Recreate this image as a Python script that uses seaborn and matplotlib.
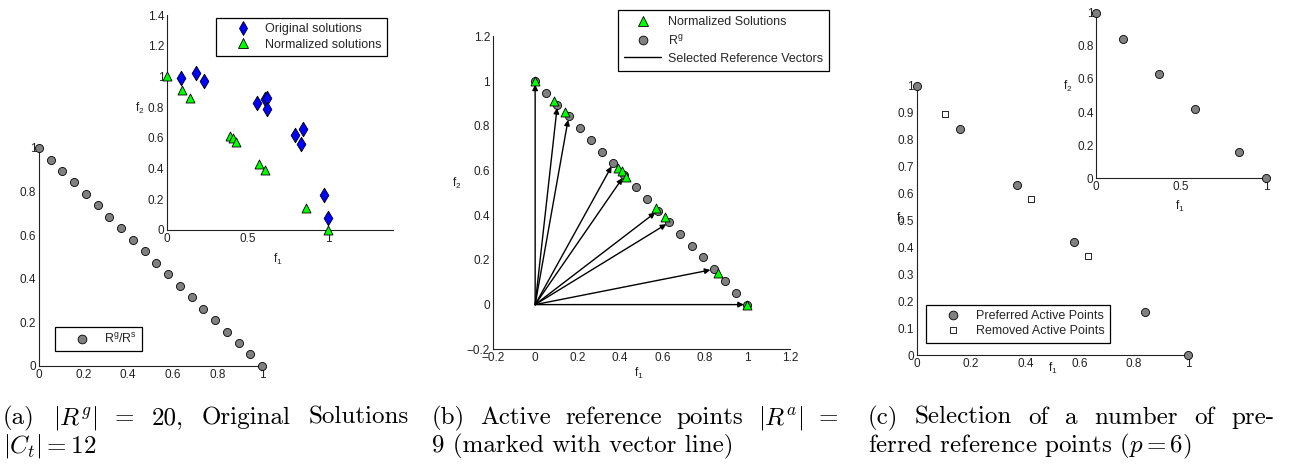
import matplotlib
matplotlib.use('Agg')
import matplotlib.pyplot as plt
import seaborn as sns
from matplotlib.lines import Line2D
from matplotlib.ticker import FuncFormatter

# R^g : 20 uniformly spread reference points on f1 + f2 = 1
rg_f1 = [0.0, 0.053, 0.105, 0.158, 0.211, 0.263, 0.316, 0.368, 0.421, 0.474,
         0.526, 0.579, 0.632, 0.684, 0.737, 0.789, 0.842, 0.895, 0.947, 1.0]
rg_f2 = [1.0, 0.947, 0.895, 0.842, 0.789, 0.737, 0.684, 0.632, 0.579, 0.526,
         0.474, 0.421, 0.368, 0.316, 0.263, 0.211, 0.158, 0.105, 0.053, 0.0]

# original / normalized solutions (panel a inset, panel b)
orig_f1 = [0.085, 0.18, 0.23, 0.56, 0.61, 0.62, 0.62, 0.79, 0.845, 0.83, 0.975, 1.0]
orig_f2 = [0.99, 1.02, 0.97, 0.83, 0.85, 0.86, 0.79, 0.62, 0.66, 0.56, 0.23, 0.08]
norm_f1 = [0.0, 0.09, 0.14, 0.39, 0.41, 0.43, 0.57, 0.61, 0.86, 1.0]
norm_f2 = [1.0, 0.91, 0.86, 0.61, 0.60, 0.57, 0.43, 0.39, 0.14, 0.0]

# active reference points (vectors in panel b)
active_f1 = [0.0, 0.105, 0.158, 0.368, 0.421, 0.579, 0.632, 0.842, 1.0]
active_f2 = [1.0, 0.895, 0.842, 0.632, 0.579, 0.421, 0.368, 0.158, 0.0]

# panel c
pref_f1 = [0.0, 0.158, 0.368, 0.579, 0.842, 1.0]
pref_f2 = [1.0, 0.842, 0.632, 0.421, 0.158, 0.0]
removed_f1 = [0.105, 0.421, 0.632]
removed_f2 = [0.895, 0.579, 0.368]

captions = [
    (r'(a) $|R^g|$ = 20, Original Solutions', r'$|C_t| = 12$'),
    (r'(b) Active reference points $|R^a|$ =', r'9 (marked with vector line)'),
    (r'(c) Selection of a number of pre-', r'ferred reference points ($p = 6$)'),
]

sns.set_style('white')
plt.rcParams['font.family'] = ['Liberation Sans', 'DejaVu Sans']
plt.rcParams['mathtext.fontset'] = 'custom'
plt.rcParams['mathtext.rm'] = 'Liberation Sans'
plt.rcParams['mathtext.it'] = 'Liberation Sans:italic'

W, H = 1290, 467
FS = 8.5
GRAY = '#808080'
GREEN = '#00ff00'
BLUE = '#0000ff'

fig = plt.figure(figsize=(W / 100, H / 100), dpi=100)


def px(x, y):
    return (x / W, 1 - y / H)


def fmt(v, p):
    return ('%g' % round(v, 4)).replace('-', '\u2212')


def make_ax(left, top, right, bottom):
    a = fig.add_axes([left / W, 1 - bottom / H, (right - left) / W, (bottom - top) / H])
    a.patch.set_alpha(0)
    sns.despine(ax=a)
    for s in ('left', 'bottom'):
        a.spines[s].set_color('#222222')
        a.spines[s].set_linewidth(0.8)
    a.tick_params(direction='in', length=2.5, width=0.6, labelsize=FS, pad=2,
                  colors='#222222', labelcolor='#222222')
    a.xaxis.set_major_formatter(FuncFormatter(fmt))
    a.yaxis.set_major_formatter(FuncFormatter(fmt))
    return a


def dots(a, x, y, marker='o', color=GRAY, s=34, z=3):
    sns.scatterplot(x=x, y=y, ax=a, marker=marker, color=color, s=s,
                    edgecolor='black', linewidth=0.6, clip_on=False, zorder=z)


def legend(a, handles, labels, x, y, **kw):
    leg = a.legend(handles, labels, loc='upper left', bbox_to_anchor=px(x, y),
                   bbox_transform=fig.transFigure, frameon=True, fancybox=False,
                   edgecolor='black', framealpha=1, fontsize=9,
                   borderaxespad=0, **kw)
    leg.get_frame().set_linewidth(0.9)
    return leg


def mk(marker, color, size):
    return Line2D([], [], ls='none', marker=marker, markerfacecolor=color,
                  markeredgecolor='black', markeredgewidth=0.6, markersize=size)


def label(x, y, txt):
    fig.text(*px(x, y), txt, fontsize=FS, ha='center', va='center', color='#222222')


F1 = r'f$_\mathregular{1}$'
F2 = r'f$_\mathregular{2}$'

# ---------------- panel (a) ----------------
ax = make_ax(39, 148, 262, 366)
dots(ax, rg_f1, rg_f2)
ax.set_xlim(0, 1)
ax.set_ylim(0, 1)
ax.set_xticks([0, 0.2, 0.4, 0.6, 0.8, 1])
ax.set_yticks([0, 0.2, 0.4, 0.6, 0.8, 1])
legend(ax, [mk('o', GRAY, 6.3)], [r'R$^\mathregular{g}$/R$^\mathregular{s}$'], 55, 327,
       borderpad=0.4, handlelength=3.45, handletextpad=0.1)

axi = make_ax(167, 15, 393, 230)
dots(axi, orig_f1, orig_f2, marker='d', color=BLUE, s=55, z=3)
dots(axi, norm_f1, norm_f2, marker='^', color=GREEN, s=42, z=4)
axi.set_xlim(0, 1.4)
axi.set_ylim(0, 1.4)
axi.set_xticks([0, 0.5, 1])
axi.set_yticks([0, 0.2, 0.4, 0.6, 0.8, 1, 1.2, 1.4])
legend(axi, [mk('d', BLUE, 7.5), mk('^', GREEN, 6.5)],
       ['Original solutions', 'Normalized solutions'], 216, 18,
       borderpad=0.4, handlelength=3.5, handletextpad=0.05, labelspacing=0.3)
label(140, 108, F2)
label(278, 259, F1)

# ---------------- panel (b) ----------------
axb = make_ax(492.7, 36.4, 789.8, 349.3)
dots(axb, rg_f1, rg_f2, z=2)
for fx, fy in zip(active_f1, active_f2):
    axb.annotate('', xy=(fx, fy), xytext=(0, 0),
                 arrowprops=dict(arrowstyle='-|>', color='black', lw=1.0,
                                 shrinkA=0, shrinkB=2.5, mutation_scale=8),
                 zorder=3)
dots(axb, norm_f1, norm_f2, marker='^', color=GREEN, s=42, z=4)
axb.set_xlim(-0.2, 1.2)
axb.set_ylim(-0.2, 1.2)
axb.set_xticks([-0.2, 0, 0.2, 0.4, 0.6, 0.8, 1, 1.2])
axb.set_yticks([-0.2, 0, 0.2, 0.4, 0.6, 0.8, 1, 1.2])
legend(axb, [mk('^', GREEN, 6.5), mk('o', GRAY, 6.3), Line2D([], [], color='black', lw=1.0)],
       ['Normalized Solutions', r'R$^\mathregular{g}$', 'Selected Reference Vectors'],
       617.7, 10, borderpad=0.5, handlelength=3.0, handletextpad=0.5, labelspacing=0.42)
label(457, 183, F2)
label(639, 373, F1)

# ---------------- panel (c) ----------------
axc = make_ax(916.7, 86, 1188.3, 355)
dots(axc, pref_f1, pref_f2)
dots(axc, removed_f1, removed_f2, marker='s', color='white', s=20)
axc.set_xlim(0, 1)
axc.set_ylim(0, 1)
axc.set_xticks([0, 0.2, 0.4, 0.6, 0.8, 1])
axc.set_yticks([0, 0.1, 0.2, 0.3, 0.4, 0.5, 0.6, 0.7, 0.8, 0.9, 1])
legend(axc, [mk('o', GRAY, 6.3), mk('s', 'white', 4.8)],
       ['Preferred Active Points', 'Removed Active Points'], 926, 305,
       borderpad=0.4, handlelength=3.55, handletextpad=0.05, labelspacing=0.28)
label(1053, 368, F1)
label(901, 218, F2)

axci = make_ax(1096.3, 12.7, 1266, 178.3)
dots(axci, pref_f1, pref_f2)
axci.set_xlim(0, 1)
axci.set_ylim(0, 1)
axci.set_xticks([0, 0.5, 1])
axci.set_yticks([0, 0.2, 0.4, 0.6, 0.8, 1])
label(1068, 86, F2)
label(1180, 206, F1)

# ---------------- captions (first line justified to the column width) ----------------
renderer = fig.canvas.get_renderer()
cap_kw = dict(fontsize=18, ha='left', va='baseline', family='cmr10',
              math_fontfamily='cm', color='black')
for (l1, l2), x0 in zip(captions, [3, 432, 868]):
    x1 = x0 + 406
    words = l1.split(' ')
    texts = [fig.text(0, 0, w_, **cap_kw) for w_ in words]
    widths = [t.get_window_extent(renderer).width for t in texts]
    gap = (x1 - x0 - sum(widths)) / (len(words) - 1)
    cur = x0
    for t, wd in zip(texts, widths):
        t.set_position(px(cur, 424))
        cur += wd + gap
    fig.text(*px(x0, 452), l2, **cap_kw)

fig.savefig('out.png', dpi=100)
